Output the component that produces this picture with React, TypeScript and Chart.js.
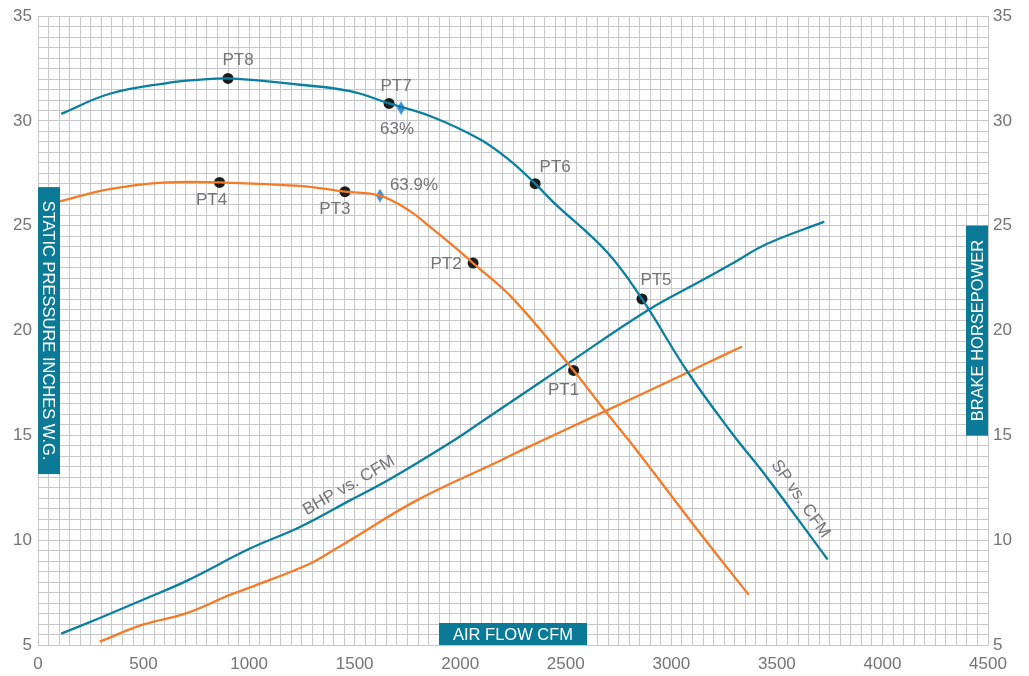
import React, { useEffect, useRef } from 'react';
import { Chart, registerables } from 'chart.js';

Chart.register(...registerables);

// Static pressure curve, larger fan (CFM / in. W.G.)
const spHighCfm = [110, 340, 610, 770, 900, 1240, 1478, 1663, 1857, 2095, 2237, 2355, 2442, 2695, 2861, 3075, 3280, 3455, 3740];
const spHighPress = [30.34, 31.3, 31.81, 31.97, 32.03, 31.73, 31.42, 30.84, 30.24, 29.12, 28.1, 27.01, 26.12, 23.75, 21.51, 18.06, 15.2, 12.97, 9.08];

// Static pressure curve, smaller fan
const spLowCfm = [100, 340, 610, 860, 1240, 1454, 1620, 1762, 1857, 1960, 2061, 2252, 2537, 2687, 2837, 3137, 3367];
const spLowPress = [26.16, 26.75, 27.07, 27.07, 26.9, 26.63, 26.44, 25.7, 24.95, 24.1, 23.22, 21.5, 18.1, 16.16, 14.27, 10.32, 7.39];

// Brake horsepower curves (right axis)
const bhpHighCfm = [110, 293, 500, 704, 1004, 1241, 1478, 1668, 1952, 2094, 2513, 2885, 3137, 3280, 3454, 3725];
const bhpHighHp = [5.54, 6.29, 7.17, 8.06, 9.6, 10.63, 11.9, 12.92, 14.65, 15.6, 18.45, 20.95, 22.35, 23.15, 24.14, 25.2];

const bhpLowCfm = [292, 500, 704, 909, 1019, 1288, 1399, 1478, 1794, 2189, 2284, 2687, 3090, 3137, 3335];
const bhpLowHp = [5.16, 5.98, 6.52, 7.39, 7.8, 8.88, 9.52, 10.0, 11.9, 13.79, 14.26, 16.16, 18.06, 18.3, 19.24];

// Operating points
const pointNames = ['PT8', 'PT7', 'PT6', 'PT5', 'PT4', 'PT3', 'PT2', 'PT1'];
const pointCfm = [900, 1663, 2355, 2861, 860, 1454, 2061, 2537];
const pointPress = [32.03, 30.84, 27.01, 21.51, 27.07, 26.63, 23.22, 18.1];

// Peak efficiency markers
const effLabels = ['63%', '63.9%'];
const effCfm = [1720, 1620];
const effPress = [30.62, 26.44];

// Axis ranges
const xTickMin = 0;
const xTickMax = 4500;
const yTickMin = 5;
const yTickMax = 35;

const BLUE = '#0b7fa1';
const ORANGE = '#f47b28';
const TEAL = '#0b7a97';
const DIAMOND = '#3d90d6';
const GRID = '#c8c8ca';
const TEXT = '#747474';
const FONT = '"Liberation Sans", Arial, sans-serif';

// label offsets (px) for each operating point, same order as pointNames
const pointLabelOffsets = [
  [10, -18], [7, -17], [20, -16], [14, -19],
  [-8, 18], [-10, 18], [-27, 1], [-10, 20],
];
const effLabelOffsets = [[-4, 21], [34, -10]];

const zip = (xs: number[], ys: number[]) => xs.map((x, i) => ({ x, y: ys[i] }));

function makeDiamond(w: number, h: number, color: string) {
  const c = document.createElement('canvas');
  c.width = w;
  c.height = h;
  const g = c.getContext('2d')!;
  g.fillStyle = color;
  g.beginPath();
  g.moveTo(w / 2, 0);
  g.lineTo(w, h / 2);
  g.lineTo(w / 2, h);
  g.lineTo(0, h / 2);
  g.closePath();
  g.fill();
  return c;
}

const overlayPlugin = {
  id: 'fanOverlay',
  afterDatasetsDraw(chart: any) {
    const { ctx, chartArea, scales } = chart;
    const xs = scales.x;
    const ys = scales.y;
    ctx.save();
    ctx.font = `17px ${FONT}`;
    ctx.fillStyle = TEXT;
    ctx.textAlign = 'center';
    ctx.textBaseline = 'middle';

    pointNames.forEach((name, i) => {
      const px = xs.getPixelForValue(pointCfm[i]);
      const py = ys.getPixelForValue(pointPress[i]);
      const [dx, dy] = pointLabelOffsets[i];
      ctx.fillText(name, px + dx, py + dy);
    });
    effLabels.forEach((t, i) => {
      const px = xs.getPixelForValue(effCfm[i]);
      const py = ys.getPixelForValue(effPress[i]);
      const [dx, dy] = effLabelOffsets[i];
      ctx.fillText(t, px + dx, py + dy);
    });

    // curve captions along the lines
    const captions = [
      { text: 'BHP vs. CFM', x: 1473, y: 12.6, angle: -30 },
      { text: 'SP vs. CFM', x: 3612, y: 11.97, angle: 55 },
    ];
    captions.forEach((c) => {
      ctx.save();
      ctx.translate(xs.getPixelForValue(c.x), ys.getPixelForValue(c.y));
      ctx.rotate((c.angle * Math.PI) / 180);
      ctx.fillText(c.text, 0, 0);
      ctx.restore();
    });

    // axis title tabs
    const cx = (chartArea.left + chartArea.right) / 2;
    const cy = (chartArea.top + chartArea.bottom) / 2;
    const tabW = 22;
    ctx.font = `16.5px ${FONT}`;

    // bottom
    ctx.fillStyle = TEAL;
    ctx.fillRect(cx - 74, chartArea.bottom - tabW, 148, tabW);
    ctx.fillStyle = '#ffffff';
    ctx.fillText('AIR FLOW CFM', cx, chartArea.bottom - tabW / 2 + 1);

    // left
    ctx.fillStyle = TEAL;
    ctx.fillRect(chartArea.left, cy - 143.5, tabW, 287);
    ctx.save();
    ctx.translate(chartArea.left + tabW / 2, cy);
    ctx.rotate(Math.PI / 2);
    ctx.fillStyle = '#ffffff';
    ctx.fillText('STATIC PRESSURE INCHES W.G.', 0, 1);
    ctx.restore();

    // right
    ctx.fillStyle = TEAL;
    ctx.fillRect(chartArea.right - tabW, cy - 105, tabW, 210);
    ctx.save();
    ctx.translate(chartArea.right - tabW / 2, cy);
    ctx.rotate(-Math.PI / 2);
    ctx.fillStyle = '#ffffff';
    ctx.fillText('BRAKE HORSEPOWER', 0, 1);
    ctx.restore();

    ctx.restore();
  },
};

export default function App() {
  const canvasRef = useRef<HTMLCanvasElement | null>(null);

  useEffect(() => {
    const canvas = canvasRef.current;
    if (!canvas) return;
    const diamond = makeDiamond(8, 14, DIAMOND);

    const lineDs = (label: string, data: any[], color: string, axis: string) => ({
      type: 'line' as const,
      label,
      data,
      borderColor: color,
      borderWidth: 2.3,
      pointRadius: 0,
      tension: 0.4,
      fill: false,
      yAxisID: axis,
    });

    const tickFont = { family: FONT, size: 17 };

    const chart = new Chart(canvas, {
      type: 'line',
      data: {
        datasets: [
          lineDs('SP high', zip(spHighCfm, spHighPress), BLUE, 'y'),
          lineDs('SP low', zip(spLowCfm, spLowPress), ORANGE, 'y'),
          lineDs('BHP high', zip(bhpHighCfm, bhpHighHp), BLUE, 'y1'),
          lineDs('BHP low', zip(bhpLowCfm, bhpLowHp), ORANGE, 'y1'),
          {
            type: 'line' as const,
            label: 'points',
            data: zip(pointCfm, pointPress),
            showLine: false,
            pointRadius: 5.5,
            pointBackgroundColor: '#1c1c1c',
            pointBorderWidth: 0,
            yAxisID: 'y',
          },
          {
            type: 'line' as const,
            label: 'efficiency',
            data: zip(effCfm, effPress),
            showLine: false,
            pointStyle: diamond as any,
            pointRadius: 7,
            yAxisID: 'y',
          },
        ],
      },
      options: {
        responsive: false,
        devicePixelRatio: 1,
        animation: false,
        layout: { padding: { top: 13, left: 0, right: 0, bottom: 0 } },
        plugins: {
          legend: { display: false },
          tooltip: { enabled: false },
        },
        scales: {
          x: {
            type: 'linear',
            min: xTickMin,
            max: xTickMax,
            ticks: {
              stepSize: 50,
              autoSkip: false,
              maxRotation: 0,
              padding: 9,
              color: TEXT,
              font: tickFont,
              callback: (v: any) => (Number(v) % 500 === 0 ? String(v) : ''),
            },
            grid: { color: GRID, lineWidth: 1, drawTicks: false },
            border: { color: GRID },
            afterFit: (s: any) => { s.height = 31; },
          },
          y: {
            type: 'linear',
            position: 'left',
            min: yTickMin,
            max: yTickMax,
            ticks: {
              stepSize: 0.5,
              autoSkip: false,
              padding: 6,
              color: TEXT,
              font: tickFont,
              callback: (v: any) => (Number(v) % 5 === 0 ? String(v) : ''),
            },
            grid: { color: GRID, lineWidth: 1, drawTicks: false },
            border: { color: GRID },
            afterFit: (s: any) => { s.width = 38; },
          },
          y1: {
            type: 'linear',
            position: 'right',
            min: yTickMin,
            max: yTickMax,
            ticks: {
              stepSize: 0.5,
              autoSkip: false,
              padding: 5,
              color: TEXT,
              font: tickFont,
              callback: (v: any) => (Number(v) % 5 === 0 ? String(v) : ''),
            },
            grid: { drawOnChartArea: false, drawTicks: false },
            border: { color: GRID },
            afterFit: (s: any) => { s.width = 41; },
          },
        },
      },
      plugins: [overlayPlugin],
    });

    return () => chart.destroy();
  }, []);

  return (
    <div style={{ position: 'absolute', left: 0, top: 0, width: 1029, height: 676, background: '#ffffff' }}>
      <canvas ref={canvasRef} width={1029} height={676} style={{ display: 'block', width: 1029, height: 676 }} />
    </div>
  );
}
